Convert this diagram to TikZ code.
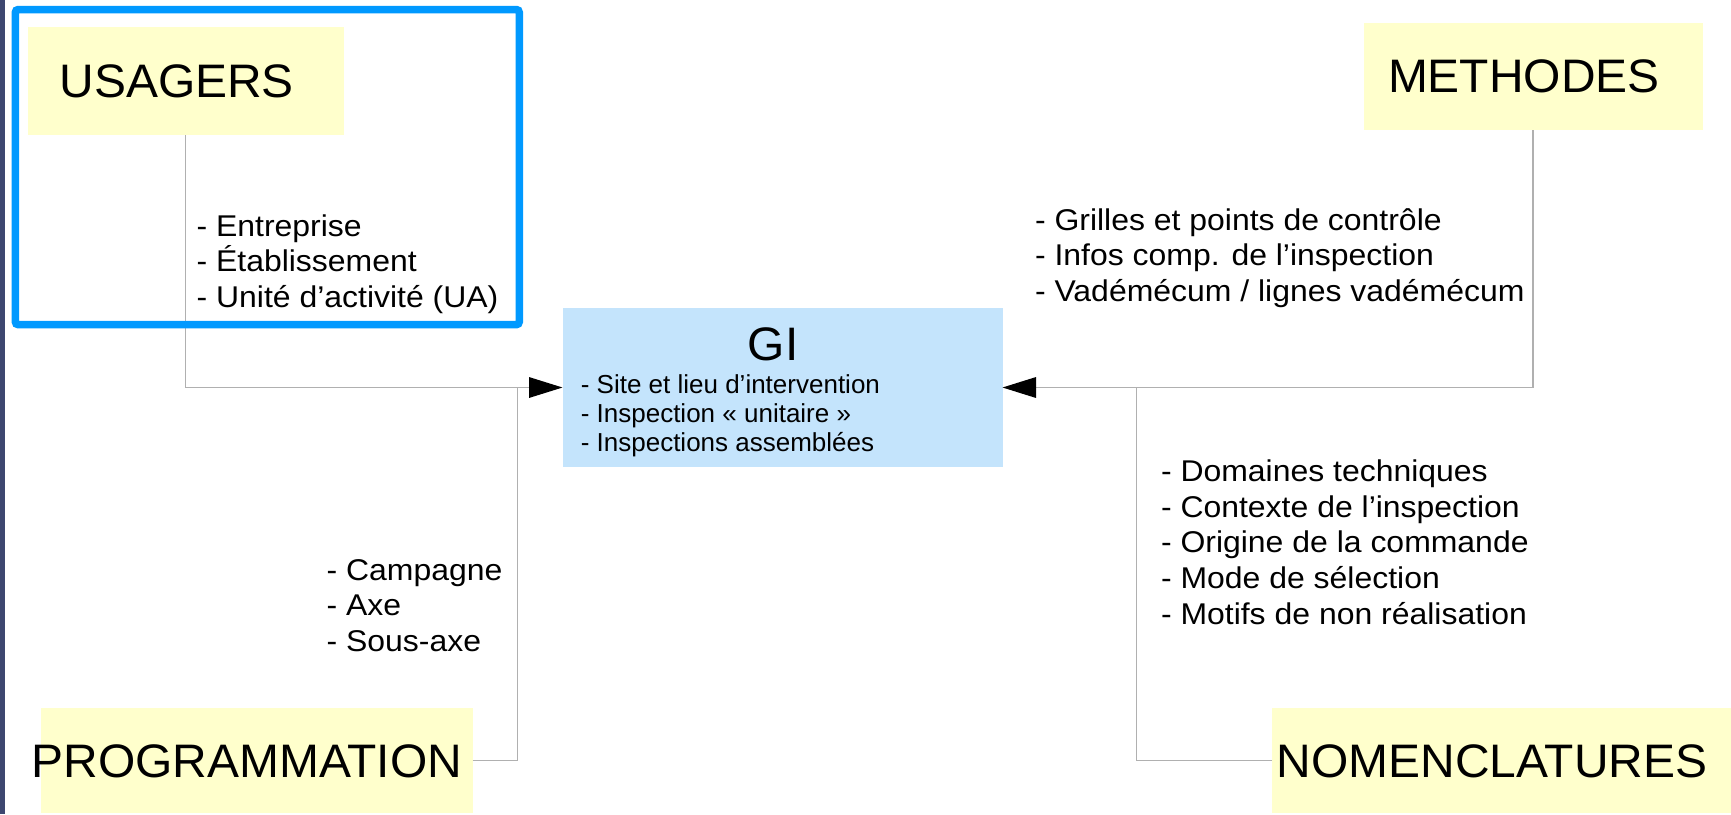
\documentclass[tikz,border=0pt]{standalone}
\usepackage{fontspec}
\setmainfont{Liberation Sans}
\newfontfamily\listfam[FakeStretch=1.065]{Liberation Sans}
\newfontfamily\titlefam[FakeStretch=1.02]{Liberation Sans}
\usetikzlibrary{arrows.meta}
\definecolor{boxyellow}{HTML}{FFFFCC}
\definecolor{giblue}{HTML}{C4E4FC}
\definecolor{framblue}{HTML}{0099FF}
\definecolor{conngray}{HTML}{B0B0B0}
\definecolor{stripe}{HTML}{3D4770}
\newcommand\bigfont{\titlefam\fontsize{47}{56}\selectfont}
\newcommand\listfont[1]{\listfam\fontsize{30}{#1}\selectfont}
\newcommand\gilistfont{\fontsize{26}{29.2}\selectfont}
\newcommand\itemlines[1]{\vtop{\lineskiplimit=-100pt\lineskip=0pt #1}}
\begin{document}
\begin{tikzpicture}[x=1pt,y=-1pt,
  ybox/.style={fill=boxyellow, draw=none, anchor=north west, inner sep=0pt, outer sep=0pt},
  lbl/.style={anchor=base west, inner sep=0pt, outer sep=0pt, text=black},
  conn/.style={draw=conngray, line width=1.3pt},
  arr/.style={-{Triangle[length=33.5pt,width=20.6pt,fill=black,color=black]}}]
\useasboundingbox (0,0) rectangle (1731,814);
\fill[white] (0,0) rectangle (1731,814);
\fill[stripe] (0,0) rectangle (5,814);
% boxes
\node[ybox, minimum width=316.1pt, minimum height=107.7pt] (us) at (27.5,27.3) {};
\node[ybox, minimum width=339pt, minimum height=107.3pt] (met) at (1363.6,22.7) {};
\node[ybox, minimum width=431.3pt, minimum height=105pt] (prog) at (41.3,708.3) {};
\node[ybox, minimum width=458.8pt, minimum height=105pt] (nom) at (1272.2,708.3) {};
\node[ybox, fill=giblue, minimum width=440pt, minimum height=159.6pt] (gi) at (562.5,307.7) {};
% junctions
\coordinate (jl) at (517.4,387.5);
\coordinate (jr) at (1136.2,387.5);
% connectors
\draw[conn] (prog.east) -| (jl);
\draw[conn] (nom.west) -| (jr);
\draw[conn, arr] (us.south) |- (gi.west);
\draw[conn, arr] (met.south) |- (gi.east);
% blue frame
\draw[framblue, line width=7.5pt, rounded corners=3pt] (15.3,9.5) rectangle (519.3,324.7);
% titles
\node[lbl] (tus) at (59.5,97.3) {\bigfont USAGERS};
\node[lbl] (tmet) at (1388,92.7) {\bigfont METHODES};
\node[lbl] (tprog) at (31.5,777.3) {\bigfont PROGRAMMATION};
\node[lbl] (tnom) at (1276.7,777.3) {\bigfont NOMENCLATURES};
\node[lbl] (tgi) at (747.7,360) {\bigfont GI};
% lists
\node[lbl] (lgi) at (580.8,393.3) {\gilistfont\itemlines{\hbox{- Site et lieu d’intervention}\hbox{- Inspection « unitaire »}\hbox{- Inspections assemblées}}};
\node[lbl] (lus) at (196.6,236) {\listfont{35.7}\itemlines{\hbox{- Entreprise}\hbox{- Établissement}\hbox{- Unité d’activité (UA)}}};
\node[lbl] (lmet) at (1035,230) {\listfont{35.8}\itemlines{\hbox{- Grilles et points de contrôle}\hbox{- Infos comp. de l’inspection}\hbox{- Vadémécum / lignes vadémécum}}};
\node[lbl] (lprog) at (326.6,580) {\listfont{35.8}\itemlines{\hbox{- Campagne}\hbox{- Axe}\hbox{- Sous-axe}}};
\node[lbl] (lnom) at (1161,481.7) {\listfont{35.6}\itemlines{\hbox{- Domaines techniques}\hbox{- Contexte de l’inspection}\hbox{- Origine de la commande}\hbox{- Mode de sélection}\hbox{- Motifs de non réalisation}}};
\end{tikzpicture}
\end{document}
